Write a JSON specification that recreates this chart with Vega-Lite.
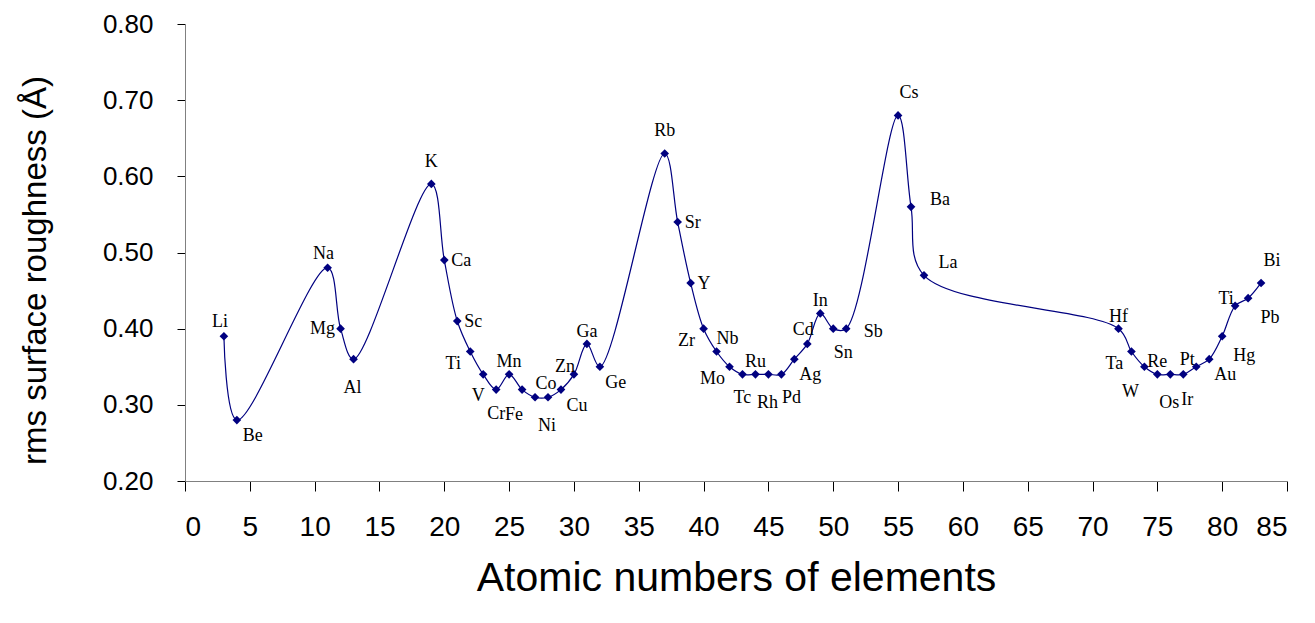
{
  "$schema": "https://vega.github.io/schema/vega-lite/v6.json",
  "width": 1102,
  "height": 457,
  "autosize": {"type": "none"},
  "padding": {"left": 185, "top": 24, "right": 28, "bottom": 142},
  "background": "white",
  "data": {"values": [
    {"z": 3, "label": "Li", "r": 0.39},
    {"z": 4, "label": "Be", "r": 0.28},
    {"z": 11, "label": "Na", "r": 0.48},
    {"z": 12, "label": "Mg", "r": 0.40},
    {"z": 13, "label": "Al", "r": 0.36},
    {"z": 19, "label": "K", "r": 0.59},
    {"z": 20, "label": "Ca", "r": 0.49},
    {"z": 21, "label": "Sc", "r": 0.41},
    {"z": 22, "label": "Ti", "r": 0.37},
    {"z": 23, "label": "V", "r": 0.34},
    {"z": 24, "label": "Cr", "r": 0.32},
    {"z": 25, "label": "Mn", "r": 0.34},
    {"z": 26, "label": "Fe", "r": 0.32},
    {"z": 27, "label": "Co", "r": 0.31},
    {"z": 28, "label": "Ni", "r": 0.31},
    {"z": 29, "label": "Cu", "r": 0.32},
    {"z": 30, "label": "Zn", "r": 0.34},
    {"z": 31, "label": "Ga", "r": 0.38},
    {"z": 32, "label": "Ge", "r": 0.35},
    {"z": 37, "label": "Rb", "r": 0.63},
    {"z": 38, "label": "Sr", "r": 0.54},
    {"z": 39, "label": "Y", "r": 0.46},
    {"z": 40, "label": "Zr", "r": 0.40},
    {"z": 41, "label": "Nb", "r": 0.37},
    {"z": 42, "label": "Mo", "r": 0.35},
    {"z": 43, "label": "Tc", "r": 0.34},
    {"z": 44, "label": "Ru", "r": 0.34},
    {"z": 45, "label": "Rh", "r": 0.34},
    {"z": 46, "label": "Pd", "r": 0.34},
    {"z": 47, "label": "Ag", "r": 0.36},
    {"z": 48, "label": "Cd", "r": 0.38},
    {"z": 49, "label": "In", "r": 0.42},
    {"z": 50, "label": "Sn", "r": 0.40},
    {"z": 51, "label": "Sb", "r": 0.40},
    {"z": 55, "label": "Cs", "r": 0.68},
    {"z": 56, "label": "Ba", "r": 0.56},
    {"z": 57, "label": "La", "r": 0.47},
    {"z": 72, "label": "Hf", "r": 0.40},
    {"z": 73, "label": "Ta", "r": 0.37},
    {"z": 74, "label": "W", "r": 0.35},
    {"z": 75, "label": "Re", "r": 0.34},
    {"z": 76, "label": "Os", "r": 0.34},
    {"z": 77, "label": "Ir", "r": 0.34},
    {"z": 78, "label": "Pt", "r": 0.35},
    {"z": 79, "label": "Au", "r": 0.36},
    {"z": 80, "label": "Hg", "r": 0.39},
    {"z": 81, "label": "Ti", "r": 0.43},
    {"z": 82, "label": "Pb", "r": 0.44},
    {"z": 83, "label": "Bi", "r": 0.46}
  ]},
  "encoding": {
    "x": {"field": "z", "type": "quantitative",
      "scale": {"domain": [0, 85], "nice": false, "zero": false},
      "axis": {"values": [0,5,10,15,20,25,30,35,40,45,50,55,60,65,70,75,80,85],
        "title": "Atomic numbers of elements",
        "labelFontSize": 28, "labelPadding": 22, "tickSize": 10,
        "titleFontSize": 41, "titleX": 551, "titleY": 97, "titleBaseline": "middle", "titleAlign": "center"}},
    "y": {"field": "r", "type": "quantitative",
      "scale": {"domain": [0.2, 0.8], "nice": false, "zero": false},
      "axis": {"values": [0.2,0.3,0.4,0.5,0.6,0.7,0.8], "format": ".2f",
        "title": "rms surface roughness (Å)",
        "labelFontSize": 26, "labelPadding": 24, "tickSize": 8,
        "titleFontSize": 33, "titleX": -150, "titleY": 246, "titleAngle": -90, "titleAlign": "center", "titleBaseline": "middle"}}
  },
  "layer": [
    {"mark": {"type": "line", "interpolate": "catmull-rom", "color": "#000080", "strokeWidth": 1.2}},
    {"mark": {"type": "point", "shape": "diamond", "filled": true, "size": 75, "color": "#000080", "opacity": 1}},
    {"transform": [{"filter": {"field": "z", "oneOf": [3, 11, 48]}}],
     "mark": {"type": "text", "font": "Liberation Serif", "fontSize": 18, "color": "#000", "dx": -4, "dy": -14}, "encoding": {"text": {"field": "label"}}},
    {"transform": [{"filter": {"field": "z", "oneOf": [25, 31, 44, 49, 72, 75]}}],
     "mark": {"type": "text", "font": "Liberation Serif", "fontSize": 18, "color": "#000", "dx": 0, "dy": -12}, "encoding": {"text": {"field": "label"}}},
    {"transform": [{"filter": {"field": "z", "oneOf": [19, 37]}}],
     "mark": {"type": "text", "font": "Liberation Serif", "fontSize": 18, "color": "#000", "dx": 0, "dy": -22}, "encoding": {"text": {"field": "label"}}},
    {"transform": [{"filter": {"field": "z", "oneOf": [55, 83]}}],
     "mark": {"type": "text", "font": "Liberation Serif", "fontSize": 18, "color": "#000", "dx": 11, "dy": -22}, "encoding": {"text": {"field": "label"}}},
    {"transform": [{"filter": {"field": "z", "oneOf": [20, 21, 38, 39]}}],
     "mark": {"type": "text", "font": "Liberation Serif", "fontSize": 18, "color": "#000", "align": "left", "dx": 7, "dy": 1}, "encoding": {"text": {"field": "label"}}},
    {"transform": [{"filter": {"field": "z", "oneOf": [51]}}],
     "mark": {"type": "text", "font": "Liberation Serif", "fontSize": 18, "color": "#000", "dx": 27, "dy": 3}, "encoding": {"text": {"field": "label"}}},
    {"transform": [{"filter": {"field": "z", "oneOf": [56]}}],
     "mark": {"type": "text", "font": "Liberation Serif", "fontSize": 18, "color": "#000", "dx": 29, "dy": -7}, "encoding": {"text": {"field": "label"}}},
    {"transform": [{"filter": {"field": "z", "oneOf": [57]}}],
     "mark": {"type": "text", "font": "Liberation Serif", "fontSize": 18, "color": "#000", "dx": 24, "dy": -12}, "encoding": {"text": {"field": "label"}}},
    {"transform": [{"filter": {"field": "z", "oneOf": [4, 32, 29, 47, 79]}}],
     "mark": {"type": "text", "font": "Liberation Serif", "fontSize": 18, "color": "#000", "dx": 16, "dy": 16}, "encoding": {"text": {"field": "label"}}},
    {"transform": [{"filter": {"field": "z", "oneOf": [80, 82]}}],
     "mark": {"type": "text", "font": "Liberation Serif", "fontSize": 18, "color": "#000", "dx": 22, "dy": 20}, "encoding": {"text": {"field": "label"}}},
    {"transform": [{"filter": {"field": "z", "oneOf": [43, 24]}}],
     "mark": {"type": "text", "font": "Liberation Serif", "fontSize": 18, "color": "#000", "dx": 0, "dy": 24}, "encoding": {"text": {"field": "label"}}},
    {"transform": [{"filter": {"field": "z", "oneOf": [23]}}],
     "mark": {"type": "text", "font": "Liberation Serif", "fontSize": 18, "color": "#000", "dx": -5, "dy": 22}, "encoding": {"text": {"field": "label"}}},
    {"transform": [{"filter": {"field": "z", "oneOf": [13, 28, 45, 76]}}],
     "mark": {"type": "text", "font": "Liberation Serif", "fontSize": 18, "color": "#000", "dx": -1, "dy": 29}, "encoding": {"text": {"field": "label"}}},
    {"transform": [{"filter": {"field": "z", "oneOf": [46, 50]}}],
     "mark": {"type": "text", "font": "Liberation Serif", "fontSize": 18, "color": "#000", "dx": 10, "dy": 24}, "encoding": {"text": {"field": "label"}}},
    {"transform": [{"filter": {"field": "z", "oneOf": [77]}}],
     "mark": {"type": "text", "font": "Liberation Serif", "fontSize": 18, "color": "#000", "dx": 4, "dy": 26}, "encoding": {"text": {"field": "label"}}},
    {"transform": [{"filter": {"field": "z", "oneOf": [74]}}],
     "mark": {"type": "text", "font": "Liberation Serif", "fontSize": 18, "color": "#000", "dx": -14, "dy": 25}, "encoding": {"text": {"field": "label"}}},
    {"transform": [{"filter": {"field": "z", "oneOf": [26]}}],
     "mark": {"type": "text", "font": "Liberation Serif", "fontSize": 18, "color": "#000", "dx": -8, "dy": 25}, "encoding": {"text": {"field": "label"}}},
    {"transform": [{"filter": {"field": "z", "oneOf": [22, 73, 42, 40]}}],
     "mark": {"type": "text", "font": "Liberation Serif", "fontSize": 18, "color": "#000", "dx": -17, "dy": 12}, "encoding": {"text": {"field": "label"}}},
    {"transform": [{"filter": {"field": "z", "oneOf": [12]}}],
     "mark": {"type": "text", "font": "Liberation Serif", "fontSize": 18, "color": "#000", "dx": -18, "dy": 0}, "encoding": {"text": {"field": "label"}}},
    {"transform": [{"filter": {"field": "z", "oneOf": [27, 41]}}],
     "mark": {"type": "text", "font": "Liberation Serif", "fontSize": 18, "color": "#000", "dx": 11, "dy": -13}, "encoding": {"text": {"field": "label"}}},
    {"transform": [{"filter": {"field": "z", "oneOf": [30, 78, 81]}}],
     "mark": {"type": "text", "font": "Liberation Serif", "fontSize": 18, "color": "#000", "dx": -9, "dy": -7}, "encoding": {"text": {"field": "label"}}}
  ],
  "config": {
    "view": {"stroke": null},
    "axis": {"grid": false, "domainColor": "#808080", "domainWidth": 1, "tickColor": "#000000", "tickWidth": 1,
      "labelColor": "#000000", "titleColor": "#000000", "labelFont": "Liberation Sans", "titleFont": "Liberation Sans", "titleFontWeight": "normal"}
  }
}
